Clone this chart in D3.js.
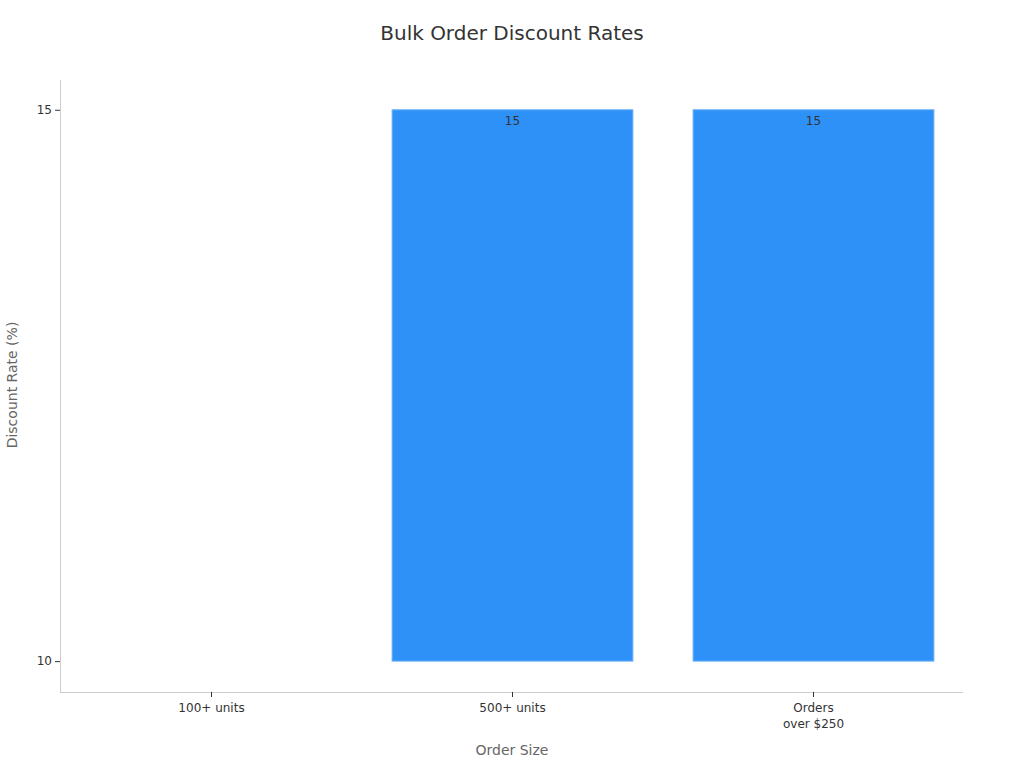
<!DOCTYPE html>
<html>
<head>
<meta charset="utf-8">
<script src="https://cdn.jsdelivr.net/npm/d3@7"></script>
<style>
  body { margin: 0; background: #fff; }
  text { font-family: "DejaVu Sans", sans-serif; }
</style>
</head>
<body>
<div id="chart"></div>
<script>
var categories = ["100+ units", "500+ units", "Orders\nover $250"];
var discounts = [10, 15, 15];
var yTicks = [10, 15];

var width = 1024, height = 768;
var plotLeft = 60, plotRight = 963, plotTop = 80, plotBottom = 692;

var svg = d3.select("#chart").append("svg").attr("width", width).attr("height", height);

var x = d3.scaleBand().domain(categories).range([plotLeft + 1, plotRight + 1]).paddingInner(0.2).paddingOuter(0.1);
var y = d3.scaleLinear().domain([9.72, 15.27]).range([plotBottom, plotTop]);

var rows = categories.map(function (c, i) { return { cat: c, val: discounts[i] }; });

// bars start at the lowest tick
svg.selectAll("rect.bar").data(rows).enter().append("rect")
    .attr("class", "bar")
    .attr("x", function (d) { return x(d.cat); })
    .attr("width", x.bandwidth())
    .attr("y", function (d) { return y(d.val); })
    .attr("height", function (d) { return y(10) - y(d.val); })
    .attr("fill", "#2e91f8")
    .attr("stroke", "#6cb2fa")
    .attr("stroke-width", 1);

svg.selectAll("text.val").data(rows.filter(function (d) { return d.val > 10; })).enter()
    .append("text")
    .attr("class", "val")
    .attr("x", function (d) { return x(d.cat) + x.bandwidth() / 2; })
    .attr("y", function (d) { return y(d.val) + 15; })
    .attr("text-anchor", "middle")
    .attr("font-size", 12)
    .attr("fill", "#333")
    .text(function (d) { return d.val; });

var yAxis = svg.append("g").attr("transform", "translate(" + plotLeft + ",0)")
    .call(d3.axisLeft(y).tickValues(yTicks).tickSize(5).tickPadding(3).tickFormat(d3.format("d")));
yAxis.select(".domain").attr("stroke", "#ccc").attr("d", "M0.5," + plotTop + "V" + plotBottom);
yAxis.selectAll(".tick line").attr("stroke", "#333");
yAxis.selectAll(".tick text").attr("font-size", 12).attr("fill", "#333").attr("font-family", "DejaVu Sans");

var xAxis = svg.append("g").attr("transform", "translate(0," + plotBottom + ")")
    .call(d3.axisBottom(x).tickSize(5).tickPadding(6));
xAxis.select(".domain").attr("stroke", "#ccc").attr("d", "M" + plotLeft + ",0.5H" + plotRight);
xAxis.selectAll(".tick line").attr("stroke", "#333");
xAxis.selectAll(".tick text").attr("font-size", 12).attr("fill", "#333").attr("font-family", "DejaVu Sans")
    .each(function (d) {
        var t = d3.select(this), lines = d.split("\n");
        t.text(null);
        lines.forEach(function (s, i) {
            t.append("tspan").attr("x", 0).attr("dy", i === 0 ? "0.71em" : "1.35em").text(s);
        });
    });

svg.append("text").attr("x", 512).attr("y", 40).attr("text-anchor", "middle")
    .attr("font-size", 20).attr("fill", "#333").text("Bulk Order Discount Rates");

svg.append("text").attr("x", 512).attr("y", 755).attr("text-anchor", "middle")
    .attr("font-size", 14).attr("fill", "#666").text("Order Size");

svg.append("text").attr("transform", "translate(17,385)rotate(-90)").attr("text-anchor", "middle")
    .attr("font-size", 14).attr("fill", "#666").text("Discount Rate (%)");
</script>
</body>
</html>
